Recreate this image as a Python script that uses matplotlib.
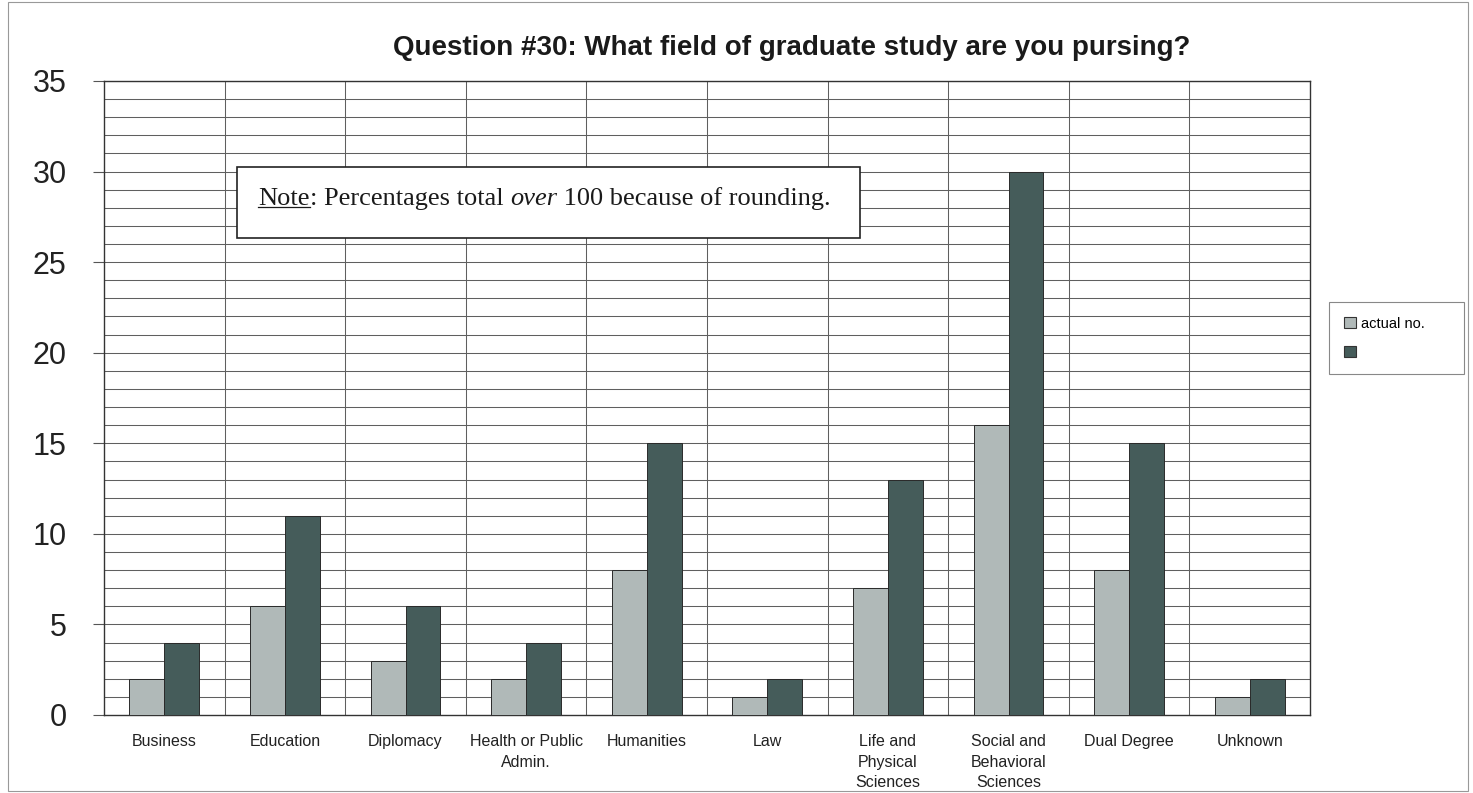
import matplotlib
matplotlib.use('Agg')
import matplotlib.pyplot as plt
from matplotlib.patches import Rectangle, Patch
from matplotlib.lines import Line2D
from matplotlib.text import Annotation
import numpy as np

categories = ['Business', 'Education', 'Diplomacy', 'Health or Public\nAdmin.',
              'Humanities', 'Law', 'Life and\nPhysical\nSciences',
              'Social and\nBehavioral\nSciences', 'Dual Degree', 'Unknown']
actual_no = [2, 6, 3, 2, 8, 1, 7, 16, 8, 1]
percent = [4, 11, 6, 4, 15, 2, 13, 30, 15, 2]
y_ticks = [0, 5, 10, 15, 20, 25, 30, 35]

LIGHT = '#b0b9b8'
DARK = '#455c5a'
GRID = '#5f5f5f'

fig = plt.figure(figsize=(14.73, 7.93), dpi=100)
fig.patch.set_facecolor('white')
ax = fig.add_axes([104 / 1473, 1 - 715 / 793, 1206 / 1473, 634 / 793])

x = np.arange(len(categories))
w = 0.29
ax.bar(x - w / 2, actual_no, w, color=LIGHT, edgecolor='#2a2a2a', linewidth=0.7, zorder=3)
ax.bar(x + w / 2, percent, w, color=DARK, edgecolor='#2a2a2a', linewidth=0.7, zorder=3)

ax.set_xlim(-0.5, len(categories) - 0.5)
ax.set_ylim(0, 35)

# one-unit horizontal grid and category separators
for yy in range(1, 36):
    ax.axhline(yy, color=GRID, lw=0.75, zorder=1)
for xx in np.arange(0.5, len(categories) - 0.5, 1):
    ax.axvline(xx, color=GRID, lw=0.75, zorder=1)

for s in ax.spines.values():
    s.set_color('#333333')
    s.set_linewidth(1.0)

ax.set_yticks(y_ticks)
ax.set_yticklabels([str(t) for t in y_ticks], fontsize=22, family='Liberation Sans', color='#222222')
ax.tick_params(axis='y', length=8, width=0.8, color='#555555', pad=19)
ax.set_xticks(x)
ax.set_xticklabels(categories, fontsize=11.5, family='Liberation Sans', color='#222222',
                   linespacing=1.45, va='top')
ax.tick_params(axis='x', length=0, pad=14)

fig.text(792 / 1473, 1 - 48 / 793, 'Question #30: What field of graduate study are you pursing?',
         ha='center', va='center', fontsize=20, fontweight='bold', family='Liberation Sans',
         color='#1a1a1a')

# note box
box = Rectangle((237 / 1473, 1 - 238 / 793), 623 / 1473, 71 / 793, transform=fig.transFigure,
                facecolor='white', edgecolor='#222222', lw=1.2, zorder=5)
fig.add_artist(box)
note_kw = dict(fontsize=19, family='Liberation Serif', color='#1a1a1a', zorder=6)
t1 = fig.text(258 / 1473, 1 - 199 / 793, 'Note', va='center', ha='left', **note_kw)
prev = t1
for txt, style in [(': Percentages total ', 'normal'), ('over', 'italic'),
                   (' 100 because of rounding.', 'normal')]:
    a = Annotation(txt, xy=(1, 0), xycoords=prev, va='bottom', ha='left', style=style,
                   annotation_clip=False, **note_kw)
    fig.add_artist(a)
    prev = a

fig.canvas.draw()
bb = t1.get_window_extent().transformed(fig.transFigure.inverted())
uy = bb.y0 + 0.004
fig.add_artist(Line2D([bb.x0, bb.x1], [uy, uy], transform=fig.transFigure,
                      color='#1a1a1a', lw=0.9, zorder=6))

leg = fig.legend(handles=[Patch(facecolor=LIGHT, edgecolor='#333333', lw=0.8),
                          Patch(facecolor=DARK, edgecolor='#333333', lw=0.8)],
                 labels=['actual no.      ', ' '],
                 loc='upper left', bbox_to_anchor=(1322 / 1473, 1 - 295 / 793),
                 prop={'family': 'Liberation Sans', 'size': 10.5},
                 handlelength=0.8, handleheight=0.8, handletextpad=0.35,
                 labelspacing=1.0, borderpad=1.0, fancybox=False, framealpha=1,
                 edgecolor='#888888')
leg.get_frame().set_linewidth(0.8)

# outer chart frame
fig.add_artist(Rectangle((8 / 1473, 0.002), 1460 / 1473, 1 - 4 / 793, transform=fig.transFigure,
                         fill=False, edgecolor='#999999', lw=0.8))

fig.savefig('out.png', dpi=100)
